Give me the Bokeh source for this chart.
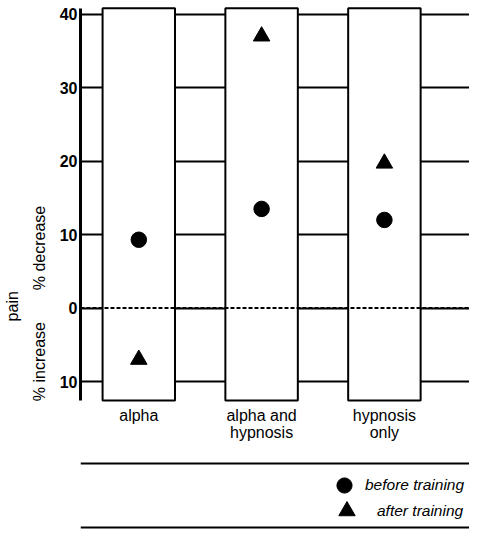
import math
from bokeh.plotting import figure
from bokeh.layouts import row
from bokeh.models import FixedTicker, Range1d, Span, Label, Legend, LegendItem
from bokeh.core.properties import value
from bokeh.embed import file_html
from bokeh.resources import INLINE

# ---- data ----
categories = ["alpha", "alpha and\nhypnosis", "hypnosis\nonly"]
before_training = [9.3, 13.5, 12.0]
after_training = [-7.0, 37.0, 19.7]
tick_values = [-10, 0, 10, 20, 30, 40]
tick_labels = ["10", "0", "10", "20", "30", "40"]

FONT = "Liberation Sans"
FS = "16px"
H = 529
SIDE_W = 50          # narrow panel holding the rotated side labels
MAIN_W = 419
LEFT = 30            # main figure's left border (axis tick labels)
Y0, Y1 = -30.13, 41.86
X0, X1 = -0.4748, 2.693

idx = list(range(len(categories)))
yr = Range1d(Y0, Y1)

# ---------- side label panel ----------
side = figure(width=SIDE_W, height=H, output_backend="svg", toolbar_location=None,
              x_range=Range1d(0, SIDE_W), y_range=yr, x_axis_type=None, y_axis_type=None,
              min_border_left=0, min_border_right=0, min_border_top=0, min_border_bottom=0)
side.outline_line_color = None
side.grid.visible = False
for txt, xs, yv in [("% decrease", 38.7, 8.18), ("% increase", 38.7, -7.28), ("pain", 11.6, 0.25)]:
    side.add_layout(Label(x=xs, y=yv, x_units="screen", y_units="data", text=txt,
                          angle=math.pi / 2, text_align="center", text_baseline="middle",
                          text_font=FONT, text_font_size=FS, text_color="black"))

# ---------- main chart ----------
p = figure(width=MAIN_W, height=H, output_backend="svg", toolbar_location=None,
           x_range=Range1d(X0, X1), y_range=yr,
           x_axis_type=None, min_border_left=LEFT, min_border_right=0,
           min_border_top=0, min_border_bottom=0)
p.outline_line_color = None
p.background_fill_color = "white"
p.border_fill_color = "white"

yaxis = p.yaxis[0]
yaxis.ticker = FixedTicker(ticks=tick_values)
yaxis.major_label_overrides = {v: l for v, l in zip(tick_values, tick_labels)}
yaxis.bounds = (-12.6, 40.8)
yaxis.axis_line_width = 3
yaxis.axis_line_color = "black"
yaxis.major_tick_out = 0
yaxis.major_tick_in = 0
yaxis.minor_tick_line_color = None
yaxis.major_label_standoff = 3
yaxis.major_label_text_font = FONT
yaxis.major_label_text_font_size = "16px"
yaxis.major_label_text_font_style = "bold"
yaxis.major_label_text_color = "black"

p.ygrid.ticker = FixedTicker(ticks=tick_values)
p.ygrid.grid_line_color = "black"
p.ygrid.grid_line_width = 2

# columns
p.vbar(x=idx, width=0.59, top=40.8, bottom=-12.56, fill_color="white",
       line_color="black", line_width=2)

# zero dotted line
p.add_layout(Span(location=0, dimension="width", line_color="black",
                  line_width=2, line_dash="4 2"))

r_before = p.scatter(idx, before_training, marker="circle", size=15.5, color="black")
r_after = p.scatter(idx, after_training, marker="triangle", size=16.5, color="black")

# category labels
p.text(x=idx, y=-13.46, text=categories, text_align="center", text_baseline="top",
       text_font=value(FONT), text_font_size=FS, text_color="black",
       text_line_height=1.0)

# separators around the legend
p.add_layout(Span(location=-21.15, dimension="width", line_color="black", line_width=2))
p.add_layout(Span(location=-29.87, dimension="width", line_color="black", line_width=2))

leg_common = dict(padding=0, margin=0, border_line_color=None, background_fill_alpha=0,
                  label_text_font=FONT, label_text_font_style="italic",
                  label_text_font_size="15.5px", label_text_color="black")
leg1 = Legend(items=[LegendItem(label="before training", renderers=[r_before])],
              location=(245, 25), glyph_width=38, glyph_height=38, label_standoff=2,
              **leg_common)
leg2 = Legend(items=[LegendItem(label="after training", renderers=[r_after])],
              location=(246, -2), glyph_width=41, glyph_height=41, label_standoff=10,
              **leg_common)
p.add_layout(leg1)
p.add_layout(leg2)

layout = row(side, p, spacing=0)
open("out.html", "w").write(file_html(layout, INLINE))
